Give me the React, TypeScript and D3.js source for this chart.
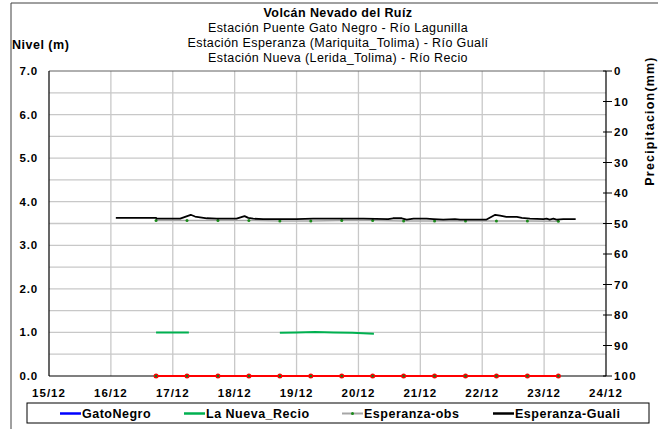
import React from "react";
import * as d3 from "d3";

const W = 658;
const H = 429;

const titleLines = [
  "Volcán Nevado del Ruíz",
  "Estación Puente Gato Negro - Río Lagunilla",
  "Estación Esperanza (Mariquita_Tolima) - Río Gualí",
  "Estación Nueva (Lerida_Tolima) - Río Recio",
];

const xTickValues = [15, 16, 17, 18, 19, 20, 21, 22, 23, 24];
const xTickLabels = ["15/12", "16/12", "17/12", "18/12", "19/12", "20/12", "21/12", "22/12", "23/12", "24/12"];
const yLeftTicks = [0, 1, 2, 3, 4, 5, 6, 7];
const yLeftGrid = [0.5, 1, 1.5, 2, 2.5, 3, 3.5, 4, 4.5, 5, 5.5, 6, 6.5];
const yRightTicks = [0, 10, 20, 30, 40, 50, 60, 70, 80, 90, 100];

// Esperanza-Guali (black)
const gualiTimes = [16.08, 16.73, 16.74, 17.12, 17.29, 17.36, 17.55, 17.71, 18.03, 18.16, 18.22, 18.3, 18.46, 18.73, 19.0, 19.27, 19.54, 20.08, 20.48, 20.56, 20.7, 20.78, 20.89, 21.1, 21.21, 21.37, 21.56, 21.64, 22.07, 22.21, 22.29, 22.39, 22.56, 22.64, 22.77, 22.99, 23.04, 23.09, 23.15, 23.2, 23.31, 23.51];
const gualiValues = [3.63, 3.63, 3.61, 3.61, 3.7, 3.66, 3.62, 3.61, 3.61, 3.67, 3.63, 3.61, 3.6, 3.6, 3.6, 3.61, 3.61, 3.61, 3.6, 3.62, 3.62, 3.59, 3.61, 3.61, 3.6, 3.59, 3.6, 3.59, 3.59, 3.7, 3.68, 3.65, 3.65, 3.63, 3.61, 3.6, 3.61, 3.59, 3.61, 3.59, 3.6, 3.6];

// Esperanza-obs (grey with green markers)
const obsTimes = [16.73, 17.23, 17.73, 18.23, 18.73, 19.23, 19.73, 20.23, 20.73, 21.23, 21.73, 22.23, 22.73, 23.23];
const obsValues = [3.57, 3.57, 3.57, 3.57, 3.56, 3.56, 3.57, 3.57, 3.56, 3.56, 3.56, 3.56, 3.56, 3.55];

// red series at zero
const redTimes = [16.73, 17.23, 17.73, 18.23, 18.73, 19.23, 19.73, 20.23, 20.73, 21.23, 21.73, 22.23, 22.73, 23.23];
const redValues = [0, 0, 0, 0, 0, 0, 0, 0, 0, 0, 0, 0, 0, 0];

// La Nueva_Recio (green), two segments
const recioSeg1Times = [16.73, 17.26];
const recioSeg1Values = [1.0, 1.0];
const recioSeg2Times = [18.73, 19.0, 19.3, 19.6, 19.9, 20.25];
const recioSeg2Values = [0.99, 1.0, 1.01, 1.0, 0.99, 0.97];

const legendNames = ["GatoNegro", "La Nueva_Recio", "Esperanza-obs", "Esperanza-Guali"];
const legendColors = ["#0000ff", "#00b050", "#a6a6a6", "#000000"];

const FONT = "'Liberation Sans', Arial, sans-serif";

export default function App() {
  const left = 49, right = 606, top = 71, bottom = 376;
  const x = d3.scaleLinear().domain([15, 24]).range([left, right]);
  const yL = d3.scaleLinear().domain([0, 7]).range([bottom, top]);
  const yR = d3.scaleLinear().domain([0, 100]).range([top, bottom]);

  const line = d3.line<[number, number]>().x((d) => x(d[0])).y((d) => yL(d[1]));
  const zip = (t: number[], v: number[]) => t.map((tt, i) => [tt, v[i]] as [number, number]);

  const legendLineX = [60, 184, 342, 493];
  const legendTextX = [82, 206, 364, 515];

  return (
    <svg width={W} height={H} style={{ position: "absolute", left: 0, top: 0, background: "#fff" }} fontFamily={FONT}>
      <rect x={0} y={0} width={W} height={H} fill="#fff" />
      {/* outer frame */}
      <line x1={11} y1={3} x2={W} y2={3} stroke="#404040" strokeWidth={1} />
      <line x1={11} y1={3} x2={11} y2={H} stroke="#404040" strokeWidth={1} />

      {/* title */}
      {titleLines.map((t, i) => (
        <text key={i} x={338} y={17.3 + i * 14.8} textAnchor="middle" fontSize={12.5}
          fontWeight={i === 0 ? "bold" : "normal"} letterSpacing={0.4} fill="#000">{t}</text>
      ))}
      <text x={12} y={49} fontSize={12.5} fontWeight="bold" letterSpacing={0.5}>Nivel (m)</text>

      {/* grid */}
      {yLeftGrid.map((v) => (
        <line key={"gy" + v} x1={left} x2={right} y1={yL(v)} y2={yL(v)} stroke="#c8c8c8" strokeWidth={1.3} />
      ))}
      {xTickValues.slice(1, -1).map((v) => (
        <line key={"gx" + v} x1={x(v)} x2={x(v)} y1={top} y2={bottom} stroke="#c8c8c8" strokeWidth={1.3} />
      ))}
      <line x1={left} x2={right} y1={top} y2={top} stroke="#606060" strokeWidth={1} />

      {/* axes */}
      <line x1={left} x2={left} y1={top} y2={bottom} stroke="#000" strokeWidth={1.2} />
      <line x1={left} x2={right} y1={bottom} y2={bottom} stroke="#000" strokeWidth={1.2} />
      <line x1={right} x2={right} y1={top} y2={bottom} stroke="#000" strokeWidth={1.2} />

      {yLeftTicks.map((v) => (
        <text key={"yl" + v} x={38} y={yL(v) + 4} textAnchor="end" fontSize={11.5} fontWeight="bold" letterSpacing={0.8}>
          {v.toFixed(1)}
        </text>
      ))}
      {yRightTicks.map((v) => (
        <g key={"yr" + v}>
          <line x1={right - 3} x2={right + 6} y1={yR(v)} y2={yR(v)} stroke="#000" strokeWidth={1} />
          <text x={614} y={yR(v) + 4} fontSize={11.5} fontWeight="bold" letterSpacing={1.2}>{v}</text>
        </g>
      ))}
      {xTickValues.map((v, i) => (
        <text key={"xt" + v} x={x(v)} y={397} textAnchor="middle" fontSize={11.5} fontWeight="bold" letterSpacing={1}>
          {xTickLabels[i]}
        </text>
      ))}
      <text transform={`translate(654,121) rotate(-90)`} textAnchor="middle" fontSize={12.5} fontWeight="bold" letterSpacing={1.2}>
        Precipitacion(mm)
      </text>

      {/* series */}
      <path d={line(zip(recioSeg1Times, recioSeg1Values)) || ""} fill="none" stroke="#00b050" strokeWidth={2} />
      <path d={line(zip(recioSeg2Times, recioSeg2Values)) || ""} fill="none" stroke="#00b050" strokeWidth={2} />

      <path d={line(zip(obsTimes, obsValues)) || ""} fill="none" stroke="#a6a6a6" strokeWidth={1.5} />
      {obsTimes.map((t, i) => (
        <circle key={"ob" + i} cx={x(t)} cy={yL(obsValues[i])} r={1.5} fill="#1a8a1a" />
      ))}
      <path d={line(zip(gualiTimes, gualiValues)) || ""} fill="none" stroke="#000" strokeWidth={1.8} strokeLinejoin="round" />

      <path d={line(zip(redTimes, redValues)) || ""} fill="none" stroke="#ff0000" strokeWidth={2} />
      {redTimes.map((t, i) => (
        <g key={"rd" + i}>
          <circle cx={x(t)} cy={yL(redValues[i])} r={2.5} fill="#ff0000" />
          <circle cx={x(t)} cy={yL(redValues[i])} r={1.2} fill="#1a7a1a" />
        </g>
      ))}

      {/* legend */}
      <rect x={27} y={403} width={622} height={20} fill="#fff" stroke="#000" strokeWidth={1} />
      {legendNames.map((n, i) => (
        <g key={"lg" + i}>
          <line x1={legendLineX[i]} x2={legendLineX[i] + 21} y1={413.5} y2={413.5} stroke={legendColors[i]} strokeWidth={i === 2 ? 2 : 2.5} />
          {i === 2 && <circle cx={legendLineX[i] + 10.5} cy={413.5} r={1.5} fill="#1a8a1a" />}
          <text x={legendTextX[i]} y={418.3} fontSize={12.5} fontWeight="bold" letterSpacing={0.5}>{n}</text>
        </g>
      ))}
    </svg>
  );
}
